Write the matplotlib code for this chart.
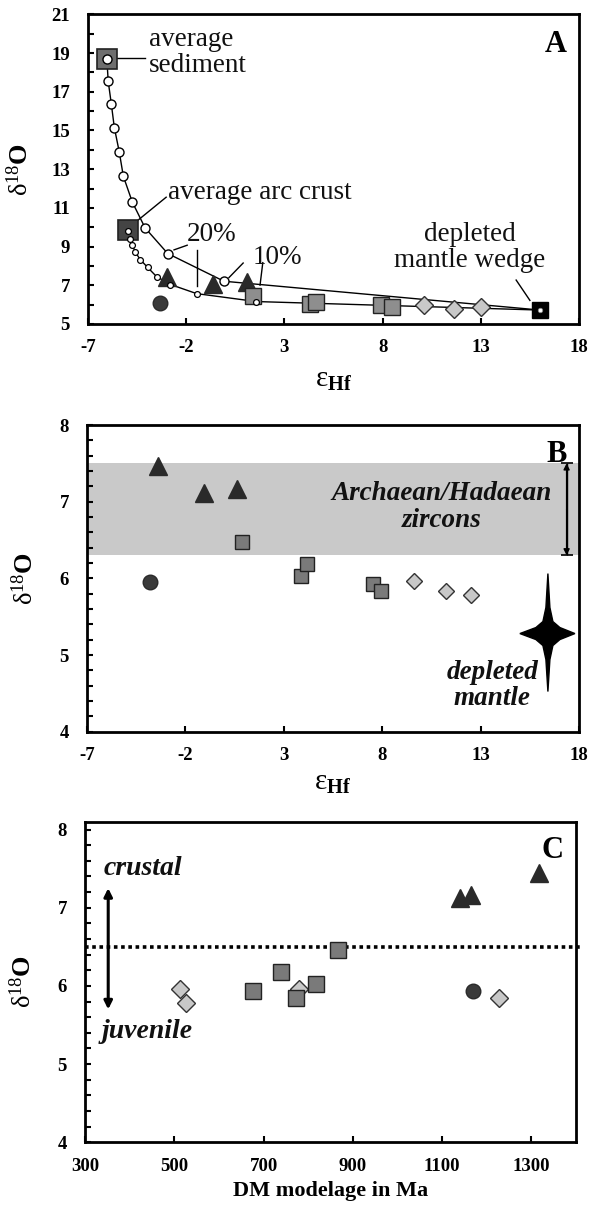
import numpy as np
import matplotlib
matplotlib.use("Agg")
import matplotlib.pyplot as plt
from matplotlib.patches import Polygon
from matplotlib import transforms

plt.rcParams['font.family'] = ['Liberation Serif', 'DejaVu Serif']
plt.rcParams['mathtext.fontset'] = 'custom'
plt.rcParams['mathtext.rm'] = 'Liberation Serif'
plt.rcParams['mathtext.it'] = 'Liberation Serif:italic'
plt.rcParams['mathtext.bf'] = 'Liberation Serif:bold'
plt.rcParams['axes.unicode_minus'] = False

# ---- panel A: mixing curves sediment / arc crust -> depleted mantle wedge
sed_curve_ehf = [-6.04, -5.97, -5.81, -5.66, -5.41, -5.20, -4.74, -4.09, -2.94, -0.08, 16.02]
sed_curve_d18o = [18.68, 17.53, 16.35, 15.15, 13.90, 12.63, 11.29, 9.96, 8.64, 7.21, 5.72]
arc_curve_ehf = [-4.96, -4.88, -4.74, -4.59, -4.34, -3.96, -3.51, -2.80, -1.47, 1.57, 16.02]
arc_curve_d18o = [9.82, 9.39, 9.07, 8.71, 8.33, 7.92, 7.45, 7.04, 6.57, 6.16, 5.72]
sediment = (-6.04, 18.68)
arc_crust = (-4.96, 9.85)
mantle_wedge = (16.02, 5.72)

a_tri_ehf = [-2.96, -0.61, 1.09]
a_tri_d18o = [7.41, 7.09, 7.16]
a_circ_ehf = [-3.33]
a_circ_d18o = [6.07]
a_sq_ehf = [1.41, 4.30, 4.62, 7.94, 8.47]
a_sq_d18o = [6.47, 6.02, 6.16, 5.96, 5.86]
a_dia_ehf = [10.13, 11.66, 13.0]
a_dia_d18o = [5.96, 5.79, 5.88]

# ---- panel B: same samples against the Archaean/Hadaean zircon range
b_tri_ehf = [-3.39, -1.07, 0.61]
b_tri_d18o = [7.46, 7.11, 7.17]
b_circ_ehf = [-3.82]
b_circ_d18o = [5.95]
b_sq_ehf = [0.90, 3.88, 4.17, 7.52, 7.96]
b_sq_d18o = [6.48, 6.03, 6.19, 5.92, 5.84]
b_dia_ehf = [9.62, 11.23, 12.51]
b_dia_d18o = [5.97, 5.84, 5.78]
zircon_range = (6.3, 7.5)
dm_ehf, dm_d18o = 16.42, 5.28

# ---- panel C: DM model ages
c_dia_age = [513, 527, 779, 1228]
c_dia_d18o = [5.96, 5.78, 5.96, 5.84]
c_sq_age = [677, 739, 773, 817, 867]
c_sq_d18o = [5.93, 6.18, 5.84, 6.03, 6.46]
c_tri_age = [1141, 1165, 1316]
c_tri_d18o = [7.12, 7.16, 7.44]
c_circ_age = [1170]
c_circ_d18o = [5.94]
crust_limit = 6.5

ehf_ticks = [-7, -2, 3, 8, 13, 18]
age_ticks = [300, 500, 700, 900, 1100, 1300]

W, H = 592, 1206
fig = plt.figure(figsize=(W / 100, H / 100), dpi=100)


def box(l, t, r, b):
    return [l / W, 1 - b / H, (r - l) / W, (b - t) / H]


axA = fig.add_axes(box(88, 14.3, 579, 324))
axB = fig.add_axes(box(87, 425, 579, 731.7))
axC = fig.add_axes(box(85, 821.7, 576, 1142.3))

ylab = r'$\mathrm{\delta}^{18}$O'
xlab = r'$\mathrm{\varepsilon}_{\mathbf{Hf}}$'


def style(ax):
    for s in ax.spines.values():
        s.set_linewidth(2.0)
    ax.tick_params(which='both', direction='in', length=4, width=1.5, labelsize=13.5)
    ax.tick_params(axis='x', pad=11)
    ax.tick_params(axis='y', pad=13)
    for lb in ax.get_xticklabels() + ax.get_yticklabels():
        lb.set_fontweight('bold')


sq_kw = dict(ls='none', marker='s', ms=11, mfc='#8e8e8e', mec='#222222', mew=1.0)
dia_kw = dict(ls='none', marker='D', ms=9, mfc='#c8c8c8', mec='#333333', mew=1.0)
tri_kw = dict(ls='none', marker='^', ms=12.5, mfc='#2a2a2a', mec='#2a2a2a')
circ_kw = dict(ls='none', marker='o', ms=10.5, mfc='#3a3a3a', mec='#2a2a2a')

# ---------------- A ----------------
ax = axA
ax.plot(sed_curve_ehf, sed_curve_d18o, '-', color='k', lw=1.0, zorder=2)
ax.plot(arc_curve_ehf, arc_curve_d18o, '-', color='k', lw=1.0, zorder=2)
ax.plot(*sediment, marker='s', ms=14, mfc='#6f6f6f', mec='#222222', mew=1.2, zorder=3)
ax.plot(*arc_crust, marker='s', ms=14, mfc='#444444', mec='#222222', mew=1.2, zorder=3)
ax.plot(*mantle_wedge, marker='s', ms=11, mfc='k', mec='k', zorder=3)
ax.plot(a_tri_ehf, a_tri_d18o, zorder=4, **tri_kw)
ax.plot(a_circ_ehf, a_circ_d18o, zorder=4, **circ_kw)
ax.plot(a_sq_ehf, a_sq_d18o, zorder=4, **sq_kw)
ax.plot(a_dia_ehf, a_dia_d18o, zorder=4, **dia_kw)
ax.plot(sed_curve_ehf[:-1], sed_curve_d18o[:-1], 'o', ms=6.5, mfc='white', mec='k',
        mew=1.0, zorder=5)
ax.plot(arc_curve_ehf[:-1], arc_curve_d18o[:-1], 'o', ms=4.2, mfc='white', mec='k',
        mew=0.9, zorder=5)
ax.plot(*mantle_wedge, 'o', ms=3.2, mfc='white', mec='#888888', mew=0.6, zorder=6)

# labels and leader lines
tA = dict(fontsize=19.5, color='#111111')
ax.text(-3.9, 19.05, 'average\nsediment', ha='left', va='center', linespacing=1.05, **tA)
ax.plot([-5.5, -4.08], [18.72, 18.72], color='k', lw=1.0)
ax.text(-2.95, 11.8, 'average arc crust', ha='left', va='center', **tA)
ax.plot([-4.47, -3.02], [10.35, 11.55], color='k', lw=1.0)
ax.text(-0.72, 9.6, '20%', ha='center', va='center', **tA)
ax.plot([-2.62, -1.95], [8.83, 9.07], color='k', lw=1.0)
ax.plot([-1.43, -1.43], [8.8, 6.95], color='k', lw=1.0)
ax.text(2.64, 8.43, '10%', ha='center', va='center', **tA)
ax.plot([0.18, 0.9], [7.4, 8.15], color='k', lw=1.0)
ax.plot([1.9, 1.76], [8.17, 7.01], color='k', lw=1.0)
ax.text(12.43, 8.95, 'depleted\nmantle wedge', ha='center', va='center',
        linespacing=1.05, **tA)
ax.plot([14.8, 15.5], [7.27, 6.22], color='k', lw=1.0)
ax.text(0.975, 0.95, 'A', transform=ax.transAxes, ha='right', va='top',
        fontsize=22, fontweight='bold')

ax.set_xlim(-7, 18)
ax.set_ylim(5, 21)
ax.set_xticks(ehf_ticks)
ax.set_yticks(np.arange(5, 22, 2))
ax.set_yticks(np.arange(6, 21, 2), minor=True)
style(ax)
ax.set_ylabel(ylab, fontsize=19, fontweight='bold')
ax.set_xlabel(xlab, fontsize=21)
ax.yaxis.set_label_coords(-0.112, 0.5)
ax.xaxis.set_label_coords(0.5, -0.14)

# ---------------- B ----------------
ax = axB
ax.axhspan(*zircon_range, color='#c9c9c9', lw=0, zorder=1)
ax.plot(b_tri_ehf, b_tri_d18o, zorder=4, **tri_kw)
ax.plot(b_circ_ehf, b_circ_d18o, zorder=4, **circ_kw)
ax.plot(b_sq_ehf, b_sq_d18o, zorder=4, **dict(sq_kw, mfc='#7a7a7a', ms=10.5))
ax.plot(b_dia_ehf, b_dia_d18o, zorder=4, **dict(dia_kw, ms=8))

# range bar for the zircon field
bar_x = 17.37
mid = sum(zircon_range) / 2
half = (zircon_range[1] - zircon_range[0]) / 2
ax.errorbar([bar_x], [mid], yerr=[half], fmt='none', ecolor='k', elinewidth=1.0,
            capsize=4, capthick=1.2, zorder=3)
for end in zircon_range:
    ax.annotate('', xy=(bar_x, end), xytext=(bar_x, mid),
                arrowprops=dict(arrowstyle='-|>', color='k', lw=1.0, mutation_scale=9,
                                shrinkA=0, shrinkB=0))

# four-pointed star for the depleted mantle (shape in pixels)
star_px = np.array([[0, 60], [2.0, 26], [5, 12], [12, 6], [27, 0], [12, -6],
                    [5, -12], [2.0, -26], [0, -58], [-2.0, -26], [-5, -12],
                    [-12, -6], [-28, 0], [-12, 6], [-5, 12], [-2.0, 26]]) / 100.0
star_tr = fig.dpi_scale_trans + transforms.ScaledTranslation(dm_ehf, dm_d18o, ax.transData)
ax.add_patch(Polygon(star_px, closed=True, facecolor='k', edgecolor='k',
                     transform=star_tr, zorder=4))

tB = dict(fontsize=19.5, fontweight='bold', style='italic', color='#111111')
ax.text(11.0, 6.93, 'Archaean/Hadaean\nzircons', ha='center', va='center',
        linespacing=1.1, **tB)
ax.text(13.6, 4.6, 'depleted\nmantle', ha='center', va='center', linespacing=1.05, **tB)
ax.text(0.975, 0.95, 'B', transform=ax.transAxes, ha='right', va='top',
        fontsize=22, fontweight='bold')

ax.set_xlim(-7, 18)
ax.set_ylim(4, 8)
ax.set_xticks(ehf_ticks)
ax.set_yticks(np.arange(4, 9, 1))
ax.set_yticks(np.arange(4.2, 8, 0.2), minor=True)
style(ax)
ax.set_ylabel(ylab, fontsize=19, fontweight='bold')
ax.set_xlabel(xlab, fontsize=21)
ax.yaxis.set_label_coords(-0.1, 0.5)
ax.xaxis.set_label_coords(0.5, -0.125)

# ---------------- C ----------------
ax = axC
ax.plot([300, 1410], [crust_limit, crust_limit], color='k', lw=2.6,
        ls=(0, (1, 1)), dash_capstyle='butt', clip_on=False, zorder=2)
ax.plot(c_tri_age, c_tri_d18o, zorder=4, **tri_kw)
ax.plot(c_circ_age, c_circ_d18o, zorder=4, **circ_kw)
ax.plot(c_dia_age, c_dia_d18o, zorder=4, **dict(dia_kw, ms=9))
ax.plot(c_sq_age, c_sq_d18o, zorder=5, **dict(sq_kw, mfc='#7a7a7a', ms=11.5))

ax.annotate('', xy=(352, 7.25), xytext=(352, 5.7),
            arrowprops=dict(arrowstyle='<|-|>', color='k', lw=2.2, mutation_scale=12,
                            shrinkA=0, shrinkB=0))
tC = dict(fontsize=20, fontweight='bold', style='italic', color='#111111')
ax.text(430, 7.5, 'crustal', ha='center', va='center', **tC)
ax.text(440, 5.42, 'juvenile', ha='center', va='center', **tC)
ax.text(0.975, 0.955, 'C', transform=ax.transAxes, ha='right', va='top',
        fontsize=22, fontweight='bold')

ax.set_xlim(300, 1400)
ax.set_ylim(4, 8.1)
ax.set_xticks(age_ticks)
ax.set_yticks(np.arange(4, 9, 1))
ax.set_yticks(np.arange(4.2, 8.1, 0.2), minor=True)
style(ax)
ax.set_ylabel(ylab, fontsize=19, fontweight='bold')
ax.set_xlabel('DM modelage in Ma', fontsize=16, fontweight='bold')
ax.yaxis.set_label_coords(-0.1, 0.5)
ax.xaxis.set_label_coords(0.5, -0.12)

fig.savefig('out.png', dpi=100)
